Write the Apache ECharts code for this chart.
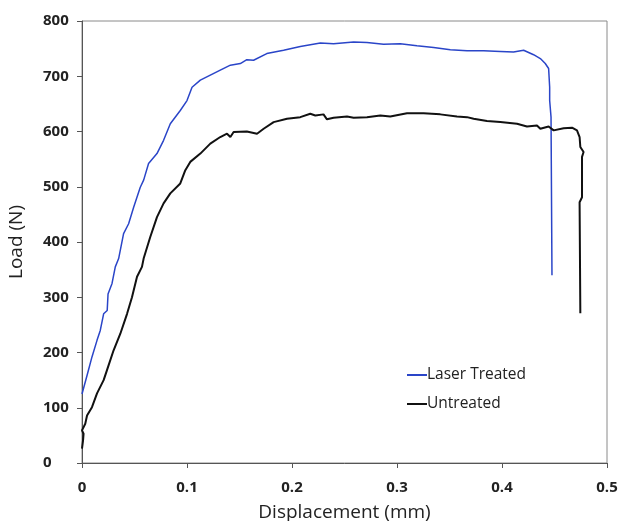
<!DOCTYPE html>
<html>
<head>
<meta charset="utf-8">
<script src="https://cdn.jsdelivr.net/npm/echarts@6/dist/echarts.min.js"></script>
<style>
  html, body { margin: 0; padding: 0; background: #fff; }
  #chart { width: 622px; height: 521px; }
</style>
</head>
<body>
<div id="chart"></div>
<script>
// 数据 (displacement mm, load N)
var laserTreated = [
  [0, 125], [0.0015, 128], [0.0053, 162], [0.0095, 192], [0.0143, 222], [0.0174, 240],
  [0.0206, 270], [0.024, 276], [0.0248, 306], [0.0286, 325], [0.0317, 355], [0.0349, 370],
  [0.0396, 415], [0.0444, 433], [0.0492, 463], [0.0555, 499], [0.0587, 512], [0.0634, 542],
  [0.0714, 560], [0.0777, 584], [0.0841, 614], [0.0936, 638], [0.1, 656], [0.1048, 680],
  [0.1127, 693], [0.1222, 702], [0.1317, 711], [0.1413, 720], [0.1508, 723], [0.157, 730],
  [0.1634, 729], [0.176, 741], [0.192, 747], [0.2079, 754], [0.227, 760], [0.2396, 759],
  [0.2587, 762], [0.2714, 761], [0.2872, 758], [0.3031, 759], [0.319, 755], [0.3349, 752],
  [0.3508, 748], [0.3667, 746], [0.3825, 746], [0.3984, 745], [0.411, 744], [0.4206, 747],
  [0.4301, 739], [0.4365, 732], [0.4412, 723], [0.4444, 714], [0.4454, 680], [0.4454, 656],
  [0.4467, 626], [0.4476, 340]
];
var untreated = [
  [0, 26], [0.001, 41], [0.0015, 53], [0, 59], [0.0031, 71], [0.0048, 86], [0.0095, 101],
  [0.0143, 126], [0.0206, 150], [0.0238, 168], [0.0301, 204], [0.0365, 234], [0.0429, 270],
  [0.0476, 300], [0.0524, 337], [0.0571, 355], [0.0587, 370], [0.065, 409], [0.0714, 445],
  [0.0777, 470], [0.0841, 488], [0.0936, 506], [0.0984, 530], [0.1031, 545], [0.1127, 560],
  [0.1222, 578], [0.1317, 590], [0.1381, 596], [0.1413, 590], [0.1444, 599], [0.157, 600],
  [0.1667, 596], [0.173, 605], [0.1825, 617], [0.1952, 623], [0.2079, 626], [0.2174, 632],
  [0.2222, 629], [0.23, 631], [0.2333, 622], [0.2396, 625], [0.2524, 627], [0.2587, 625],
  [0.2714, 626], [0.2841, 629], [0.2936, 627], [0.3095, 633], [0.3253, 633], [0.3412, 631],
  [0.3571, 627], [0.3667, 626], [0.373, 623], [0.3857, 619], [0.3984, 617], [0.4143, 614],
  [0.4238, 609], [0.4333, 611], [0.4365, 605], [0.4444, 609], [0.4492, 602], [0.4587, 606],
  [0.4667, 607], [0.4714, 602], [0.4739, 590], [0.4746, 572], [0.4777, 563], [0.4762, 554],
  [0.4762, 481], [0.4739, 472], [0.4746, 271]
];
var xTicks = [0, 0.1, 0.2, 0.3, 0.4, 0.5];
var yTicks = [0, 100, 200, 300, 400, 500, 600, 700, 800];

var myChart = echarts.init(document.getElementById('chart'));
var labelFont = 'Open Sans';
var option = {
  animation: false,
  grid: {
    left: 82, right: 15, top: 21, bottom: 58,
    containLabel: false,
    outerBoundsMode: 'none',
    show: true, borderColor: '#8a8a8a', borderWidth: 1
  },
  legend: {
    orient: 'vertical',
    left: 407, top: 367,
    padding: 0,
    itemWidth: 20, itemHeight: 2, itemGap: 13,
    icon: 'rect',
    data: ['Laser Treated', 'Untreated'],
    textStyle: { fontFamily: labelFont, fontSize: 15.5, color: '#222', padding: [0, 0, 0, -5] }
  },
  xAxis: {
    type: 'value',
    min: xTicks[0], max: xTicks[xTicks.length - 1], interval: 0.1,
    name: 'Displacement (mm)',
    nameLocation: 'middle', nameGap: 40,
    nameTextStyle: { fontFamily: labelFont, fontSize: 19, color: '#222' },
    axisLine: { lineStyle: { color: '#555', width: 1 } },
    axisTick: { show: true, length: 5, lineStyle: { color: '#555' } },
    axisLabel: { fontFamily: labelFont, fontSize: 15, fontWeight: 'bold', color: '#222', margin: 17 },
    splitLine: { show: false }
  },
  yAxis: {
    type: 'value',
    min: yTicks[0], max: yTicks[yTicks.length - 1], interval: 100,
    name: 'Load (N)',
    nameLocation: 'middle', nameGap: 56,
    nameTextStyle: { fontFamily: labelFont, fontSize: 19, color: '#222' },
    axisLine: { show: true, lineStyle: { color: '#555', width: 1 } },
    axisTick: { show: true, length: 5, lineStyle: { color: '#555' } },
    axisLabel: { fontFamily: labelFont, fontSize: 15, fontWeight: 'bold', color: '#222', margin: 39, align: 'left' },
    splitLine: { show: false }
  },
  series: [
    {
      name: 'Laser Treated',
      type: 'line',
      data: laserTreated,
      symbol: 'none',
      lineStyle: { color: '#2a45c8', width: 1.5 },
      itemStyle: { color: '#2a45c8' }
    },
    {
      name: 'Untreated',
      type: 'line',
      data: untreated,
      symbol: 'none',
      lineStyle: { color: '#111', width: 2 },
      itemStyle: { color: '#111' }
    }
  ]
};
myChart.setOption(option);
</script>
</body>
</html>
